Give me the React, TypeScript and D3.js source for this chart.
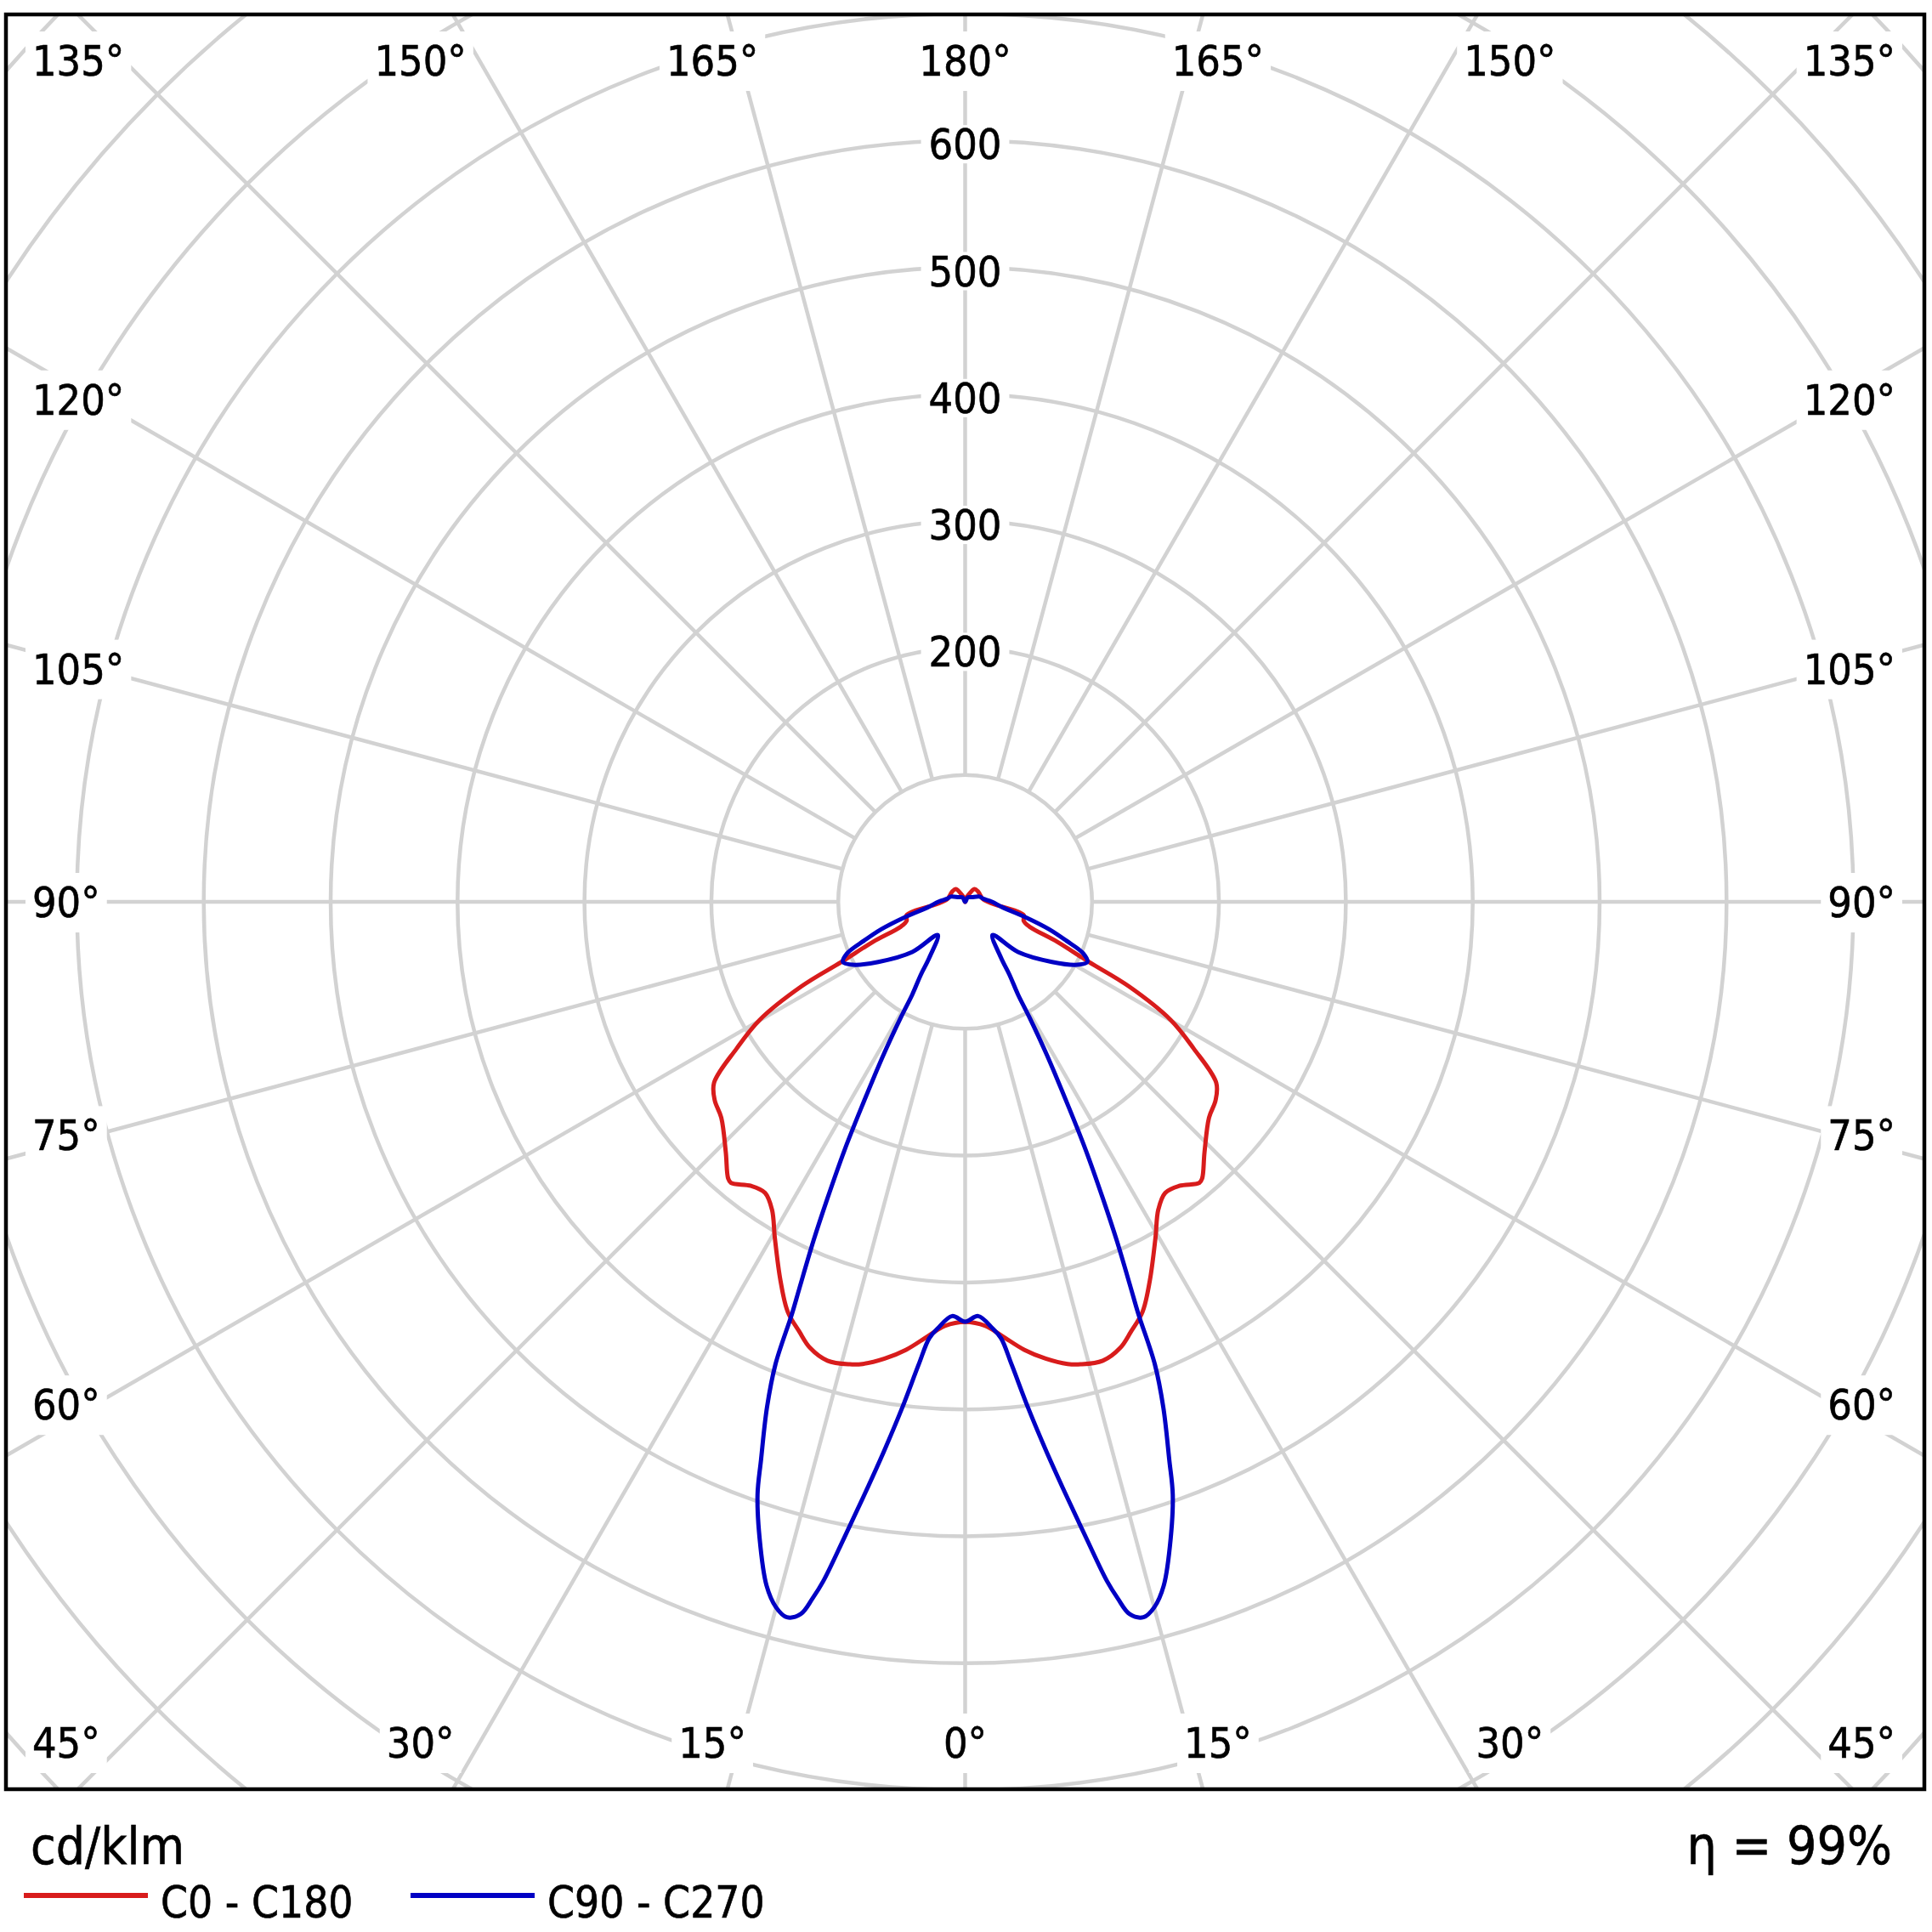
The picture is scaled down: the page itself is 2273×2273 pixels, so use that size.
import React, { useEffect, useRef } from 'react';
import * as d3 from 'd3';

const SIZE = 2273;

// C0 - C180 (red), gamma in degrees from nadir, values in cd/klm
const redGamma = [0, 2.75, 5, 7.5, 10, 12.5, 14, 16.7, 19.2, 21.1, 23.4, 26, 29.5, 32.1, 34.5, 37, 39.8, 40.6, 43.7, 48.5, 51.6, 54.2, 57.3, 60.1, 62.7, 64.1, 66.5, 69, 72, 77, 80, 85, 90, 100, 116, 130, 144, 155, 170, 180];
const redValues = [331, 334.6, 344, 356, 365.5, 373, 375.6, 377.5, 372, 363, 352, 332, 304.5, 286.4, 278.3, 280.3, 288.3, 287, 273, 256.6, 251.8, 244, 214, 187, 145, 108.3, 79.5, 54, 48.5, 47.5, 40, 23, 18, 14, 13, 13, 12.5, 6, 2, 0];

// C90 - C270 (blue)
const blueGamma = [0, 1.8, 3.7, 4.7, 5.73, 7.09, 8.4, 9.64, 10.77, 11.8, 12.36, 13, 14, 15, 16.2, 17.9, 19.3, 20.1, 21.4, 22.3, 22.8, 23.2, 24.1, 24.9, 25.9, 26.75, 28.1, 29.1, 29.7, 31.3, 32.7, 39.5, 46.5, 55.3, 60.75, 63.8, 66.4, 69, 71.9, 75.5, 81.5, 90.6, 100, 110, 125, 150, 180];
const blueValues = [330.9, 326.6, 337, 345, 366.3, 401.7, 437.5, 473.7, 510.2, 547, 562, 576, 581, 575.6, 561, 527, 495, 468, 428, 394, 352, 332, 293, 258, 218, 182, 136, 104, 84, 67.2, 52.3, 33.9, 57.4, 83.2, 101.5, 107.3, 101.5, 85.3, 69.7, 50, 30, 20.8, 14.3, 12, 6.3, 4, 0];

// grid
const rings = [100, 200, 300, 400, 500, 600, 700, 800, 900, 1000];
const ringLabels = [200, 300, 400, 500, 600];
const spokes = [0, 15, 30, 45, 60, 75, 90, 105, 120, 135, 150, 165, 180, 195, 210, 225, 240, 255, 270, 285, 300, 315, 330, 345];

// angle labels: top / bottom rows (offset from vertical), sides (offset from horizontal)
const topText = ['135°', '150°', '165°', '180°', '165°', '150°', '135°'];
const bottomText = ['45°', '30°', '15°', '0°', '15°', '30°', '45°'];
const rowOffsets = [-45, -30, -15, 0, 15, 30, 45];
const sideText = ['120°', '105°', '90°', '75°', '60°'];
const sideOffsets = [30, 15, 0, -15, -30];

const series = [
  { name: 'C0 - C180', gamma: redGamma, values: redValues, color: '#d81c1c' },
  { name: 'C90 - C270', gamma: blueGamma, values: blueValues, color: '#0000c4' },
];

const FONT = "'DejaVu Sans Condensed', 'DejaVu Sans', sans-serif";

const App: React.FC = () => {
  const svgRef = useRef<SVGSVGElement>(null);

  useEffect(() => {
    if (!svgRef.current) return;
    const svg = d3.select(svgRef.current);
    svg.selectAll('*').remove();

    const frame = { x: 7, y: 17, w: 2257, h: 2088 };
    const cx = frame.x + frame.w / 2;
    const cy = frame.y + frame.h / 2;
    const r = d3.scaleLinear().domain([0, 100]).range([0, 149.3]);
    const textLeft = 38;
    const textRight = 2230;
    const grid = '#d2d2d2';

    svg.append('rect').attr('width', SIZE).attr('height', SIZE).attr('fill', '#fff');

    const defs = svg.append('defs');
    defs.append('clipPath').attr('id', 'frame-clip')
      .append('rect')
      .attr('x', frame.x).attr('y', frame.y)
      .attr('width', frame.w).attr('height', frame.h);

    const plot = svg.append('g').attr('clip-path', 'url(#frame-clip)');
    const g = plot.append('g').attr('transform', `translate(${cx},${cy})`);

    // rings
    g.selectAll('circle.ring')
      .data(rings)
      .join('circle')
      .attr('class', 'ring')
      .attr('r', d => r(d))
      .attr('fill', 'none')
      .attr('stroke', grid)
      .attr('stroke-width', 4.5);

    // spokes
    g.selectAll('line.spoke')
      .data(spokes)
      .join('line')
      .attr('class', 'spoke')
      .attr('x1', d => r(100) * Math.sin((d * Math.PI) / 180))
      .attr('y1', d => r(100) * Math.cos((d * Math.PI) / 180))
      .attr('x2', d => r(1100) * Math.sin((d * Math.PI) / 180))
      .attr('y2', d => r(1100) * Math.cos((d * Math.PI) / 180))
      .attr('stroke', grid)
      .attr('stroke-width', 4.5);

    const labelLayer = plot.append('g')
      .style('font-family', FONT)
      .style('font-stretch', 'condensed')
      .style('font-size', '50px')
      .attr('fill', '#000')
      .attr('stroke', '#000')
      .attr('stroke-width', 0.6);

    const addLabel = (
      text: string, x: number, y: number, anchor: string,
      padX: number, padTop: number, padBottom: number,
    ) => {
      const lg = labelLayer.append('g');
      const rect = lg.append('rect').attr('fill', '#fff').attr('stroke', 'none');
      const t = lg.append('text')
        .attr('x', x).attr('y', y)
        .attr('text-anchor', anchor)
        .text(text);
      const bb = (t.node() as SVGTextElement).getBBox();
      rect.attr('x', bb.x - padX).attr('y', bb.y - padTop)
        .attr('width', bb.width + padX * 2)
        .attr('height', bb.height + padTop + padBottom);
      return { t, bb, rect };
    };

    // ring value labels
    ringLabels.forEach(v => {
      addLabel(String(v), cx, cy - r(v) + 22, 'middle', 9, -6, -7);
    });

    // top / bottom angle labels
    const rowLabel = (text: string, off: number, baseline: number) => {
      const xc = cx + 1110 * Math.tan((off * Math.PI) / 180);
      const { t, bb, rect } = addLabel(text, xc, baseline, 'middle', 8, 6, 6);
      const half = bb.width / 2;
      const clamped = Math.max(textLeft + half, Math.min(textRight - half, xc));
      if (clamped !== xc) {
        t.attr('x', clamped);
        rect.attr('x', +rect.attr('x') + (clamped - xc));
      }
    };
    topText.forEach((s, i) => rowLabel(s, rowOffsets[i], 89));
    bottomText.forEach((s, i) => rowLabel(s, rowOffsets[i], 2068));

    // side angle labels
    sideText.forEach((s, i) => {
      const yc = cy - 1024 * Math.tan((sideOffsets[i] * Math.PI) / 180);
      addLabel(s, textLeft, yc + 18, 'start', 8, 6, 6);
      addLabel(s, textRight, yc + 18, 'end', 8, 6, 6);
    });

    // intensity curves
    const line = d3.lineRadial<[number, number]>()
      .angle(d => d[0])
      .radius(d => r(d[1]))
      .curve(d3.curveCatmullRomClosed.alpha(0.5));

    series.forEach(s => {
      const pts: [number, number][] = [];
      s.gamma.forEach((gm, i) => pts.push([Math.PI - (gm * Math.PI) / 180, s.values[i]]));
      for (let i = s.gamma.length - 2; i >= 1; i--) {
        pts.push([Math.PI + (s.gamma[i] * Math.PI) / 180, s.values[i]]);
      }
      g.append('path')
        .attr('d', line(pts) || '')
        .attr('fill', 'none')
        .attr('stroke', s.color)
        .attr('stroke-width', 5)
        .attr('stroke-linejoin', 'round');
    });

    // frame
    svg.append('rect')
      .attr('x', frame.x).attr('y', frame.y)
      .attr('width', frame.w).attr('height', frame.h)
      .attr('fill', 'none')
      .attr('stroke', '#000')
      .attr('stroke-width', 4.5);

    // unit and efficiency
    const info = svg.append('g')
      .style('font-family', FONT)
      .style('font-stretch', 'condensed')
      .attr('stroke', '#000')
      .attr('stroke-width', 0.6);
    info.append('text').attr('x', 36).attr('y', 2193).style('font-size', '60px').text('cd/klm');
    info.append('text').attr('x', 2226).attr('y', 2193).attr('text-anchor', 'end')
      .style('font-size', '62px').style('font-stretch', 'normal').text('η = 99%');

    // legend
    const legendX = [28, 483];
    series.forEach((s, i) => {
      info.append('line')
        .attr('x1', legendX[i]).attr('x2', legendX[i] + 146)
        .attr('y1', 2230).attr('y2', 2230)
        .attr('stroke', s.color).attr('stroke-width', 6);
      info.append('text')
        .attr('x', legendX[i] + 161).attr('y', 2256)
        .style('font-size', '51px')
        .text(s.name);
    });
  }, []);

  return (
    <svg
      ref={svgRef}
      width={SIZE}
      height={SIZE}
      style={{ position: 'absolute', left: 0, top: 0, display: 'block' }}
    />
  );
};

export default App;
